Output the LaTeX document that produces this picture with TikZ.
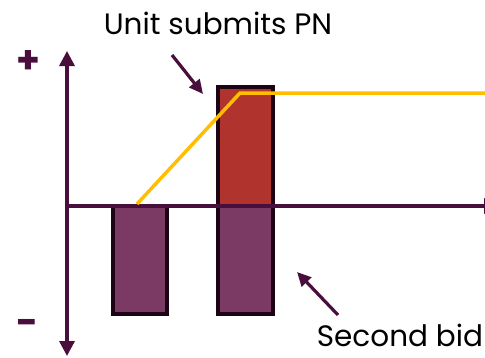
\documentclass[tikz,border=0pt]{standalone}
\usepackage{fontspec}
\setmainfont{Poppins}
\usetikzlibrary{arrows.meta}
\definecolor{axiscol}{HTML}{4A0E3C}
\definecolor{edgecol}{HTML}{1C0414}
\definecolor{barpurple}{HTML}{7B3A63}
\definecolor{barred}{HTML}{B0342D}
\definecolor{pnline}{HTML}{FFBF00}
\begin{document}
\begin{tikzpicture}[x=1pt,y=-1pt,
  tip/.style={-{Triangle[length=15pt,width=15pt]}},
  axis/.style={draw=axiscol,line width=3.3pt},
  bar/.style={draw=edgecol,line width=3.6pt},
  callout/.style={draw=axiscol,line width=3.2pt,-{Triangle[length=14pt,width=13pt]}},
  lbl/.style={font=\fontsize{29.5}{32}\selectfont,text=black,inner sep=0pt},
  sign/.style={font=\fontsize{38}{40}\selectfont\bfseries,text=axiscol,inner sep=0pt}]
\useasboundingbox (0,0) rectangle (485,357);
\clip (0,0) rectangle (485,357);
% axes
\coordinate (ybot) at (67,356);
\coordinate (ytop) at (67,51);
\coordinate (xl) at (67,206);
\coordinate (xr) at (499,206);
% bars
\filldraw[bar,fill=barpurple] (113,206) rectangle (167,314);
\filldraw[bar,fill=barred] (218,87) rectangle (273,206);
\filldraw[bar,fill=barpurple] (218,206) rectangle (273,314);
\draw[axis,{Triangle[length=15pt,width=15pt]}-{Triangle[length=15pt,width=15pt]}] (ybot) -- (ytop);
\draw[axis,tip] (xl) -- (xr);
% PN line
\coordinate (p0) at (137,204);
\coordinate (p1) at (240,93);
\coordinate (p2) at (485,93);
\draw[pnline,line width=3.5pt] (p0) -- (p1) -- (p2);
% signs
\node[sign] (plus) at (28,62) {+};
\node[sign] (minus) at (27,327) {−};
% labels
\node[lbl] (unit) at (218,23) {Unit submits PN};
\coordinate (u1) at (172,55);
\coordinate (u2) at (203,94);
\draw[callout] (u1) -- (u2);
\node[lbl] (second) at (400,335) {Second bid};
\coordinate (s1) at (338,315);
\coordinate (s2) at (297,272);
\draw[callout] (s1) -- (s2);
\end{tikzpicture}
\end{document}
